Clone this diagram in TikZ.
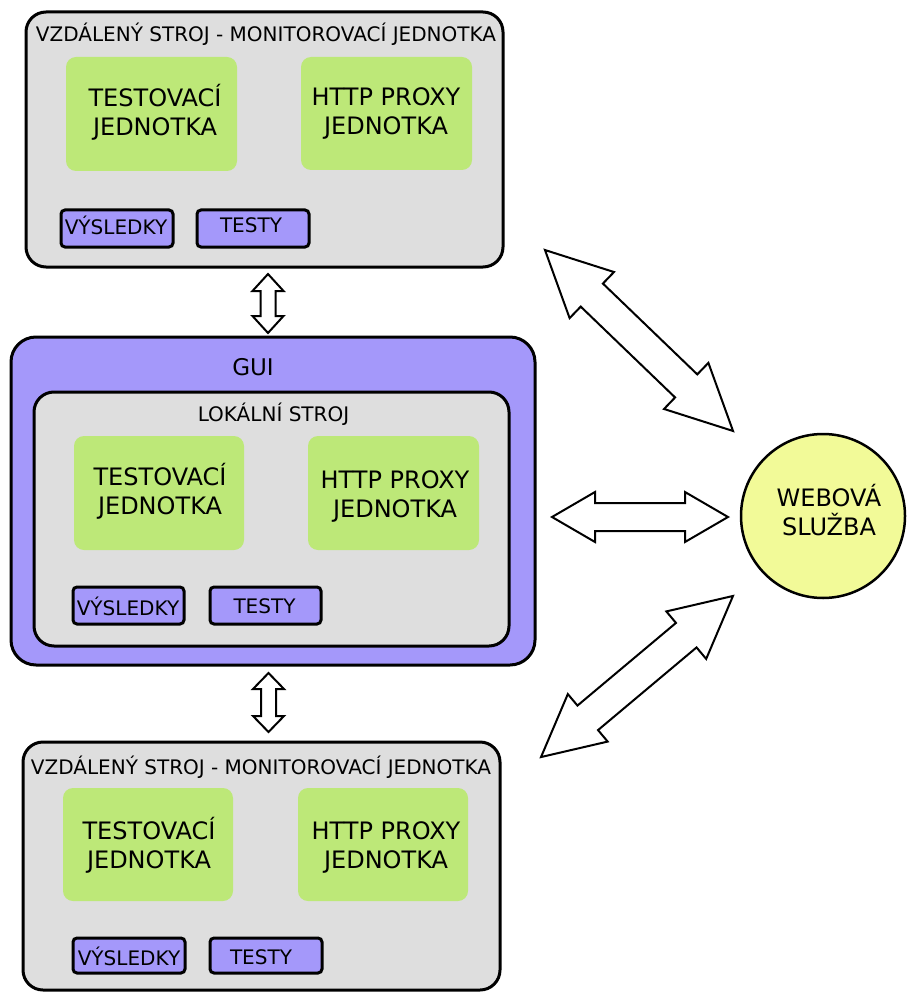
\documentclass[tikz,border=0pt]{standalone}
\usepackage{fontspec}
\setmainfont{DejaVu Sans}
\usetikzlibrary{fit}
\definecolor{greyfill}{HTML}{DEDEDE}
\definecolor{purp}{HTML}{A498FA}
\definecolor{grn}{HTML}{BDE878}
\definecolor{yel}{HTML}{F2FA98}
\tikzset{
 machine/.style={draw=black, line width=3pt, fill=greyfill, rounded corners=20pt, inner sep=0pt},
 guibox/.style={draw=black, line width=3pt, fill=purp, rounded corners=25pt, inner sep=0pt},
 unitbox/.style={fill=grn, rounded corners=10pt, inner sep=0pt},
 store/.style={draw=black, line width=3pt, fill=purp, rounded corners=4pt, inner sep=0pt},
 lbl/.style={anchor=base, inner sep=0pt, font=\fontsize{20}{24}\selectfont},
 guilbl/.style={anchor=base, inner sep=0pt, font=\fontsize{23}{27}\selectfont},
 big/.style={align=center, inner sep=0pt, font=\fontsize{24}{29}\selectfont},
 blockarrow/.style={draw=black, fill=white, line width=2pt, line join=miter},
}
\newcommand{\twolines}[2]{\rule{0pt}{24pt}#1\\#2\rule[-6.5pt]{0pt}{6.5pt}}
% center x, center y, angle, half length, half shaft, half head, head length
\newcommand{\dblarrow}[7]{\draw[blockarrow, shift={(#1,#2)}, rotate=#3]
 (-#4,0) -- (-#4+#7,#6) -- (-#4+#7,#5) -- (#4-#7,#5) -- (#4-#7,#6) -- (#4,0)
 -- (#4-#7,-#6) -- (#4-#7,-#5) -- (-#4+#7,-#5) -- (-#4+#7,-#6) -- cycle;}
\begin{document}
\begin{tikzpicture}[x=1pt,y=-1pt]
\path[use as bounding box] (0,0) rectangle (906,992);
% ---------- top remote machine ----------
\node[machine, fit={(26,12)(503,267)}] (top) {};
\node[lbl] (toptitle) at (266,42) {VZDÁLENÝ STROJ - MONITOROVACÍ JEDNOTKA};
\node[unitbox, fit={(66,57)(237,171)}] (toptest) {};
\node[unitbox, fit={(301,57)(472,170)}] (topproxy) {};
\node[big] (toptestt) at (155,112.5) {\twolines{TESTOVACÍ}{JEDNOTKA}};
\node[big] (topproxyt) at (386,111.5) {\twolines{HTTP PROXY}{JEDNOTKA}};
\node[store, fit={(61,210)(173,247)}] (topres) {};
\node[store, fit={(197,210)(309,247)}] (toptests) {};
\node[lbl] (topresl) at (116,235) {VÝSLEDKY};
\node[lbl] (toptestsl) at (251,233) {TESTY};
% ---------- GUI / local machine ----------
\node[guibox, fit={(11,337)(535,665)}] (gui) {};
\node[guilbl] (guil) at (253,375) {GUI};
\node[machine, fit={(34,392)(509,646)}] (local) {};
\node[lbl] (locall) at (273.5,421) {LOKÁLNÍ STROJ};
\node[unitbox, fit={(74,436)(244,550)}] (loctest) {};
\node[unitbox, fit={(308,436)(479,550)}] (locproxy) {};
\node[big] (loctestt) at (160,491) {\twolines{TESTOVACÍ}{JEDNOTKA}};
\node[big] (locproxyt) at (395,494) {\twolines{HTTP PROXY}{JEDNOTKA}};
\node[store, fit={(73,587)(184,624)}] (locres) {};
\node[store, fit={(210,587)(321,624)}] (loctests) {};
\node[lbl] (locresl) at (128,615) {VÝSLEDKY};
\node[lbl] (loctestsl) at (264.5,613) {TESTY};
% ---------- bottom remote machine ----------
\node[machine, fit={(23,742)(500,990)}] (bot) {};
\node[lbl] (bottitle) at (261,774) {VZDÁLENÝ STROJ - MONITOROVACÍ JEDNOTKA};
\node[unitbox, fit={(63,788)(233,901)}] (bottest) {};
\node[unitbox, fit={(298,788)(468,901)}] (botproxy) {};
\node[big] (bottestt) at (149,845) {\twolines{TESTOVACÍ}{JEDNOTKA}};
\node[big] (botproxyt) at (386,845) {\twolines{HTTP PROXY}{JEDNOTKA}};
\node[store, fit={(73,938)(185,973)}] (botres) {};
\node[store, fit={(210,938)(322,973)}] (bottests) {};
\node[lbl] (botresl) at (129,965) {VÝSLEDKY};
\node[lbl] (bottestsl) at (261,964) {TESTY};
% ---------- web service ----------
\node[circle, draw=black, line width=2.5pt, fill=yel, minimum size=164pt, inner sep=0pt] (web) at (823,516) {};
\node[big] (webt) at (829,512.5) {\twolines{WEBOVÁ}{SLUŽBA}};
% ---------- block arrows ----------
\dblarrow{268}{303.5}{90}{29.5}{7.5}{15.5}{17}
\dblarrow{268.5}{702.5}{90}{29.5}{7.5}{15.5}{16}
\dblarrow{640}{517}{0}{88}{14}{25}{43}
\dblarrow{639}{340.5}{-43.9}{130.5}{16}{32}{65}
\dblarrow{637}{676.5}{40}{125.3}{16}{31}{61}
\end{tikzpicture}
\end{document}
